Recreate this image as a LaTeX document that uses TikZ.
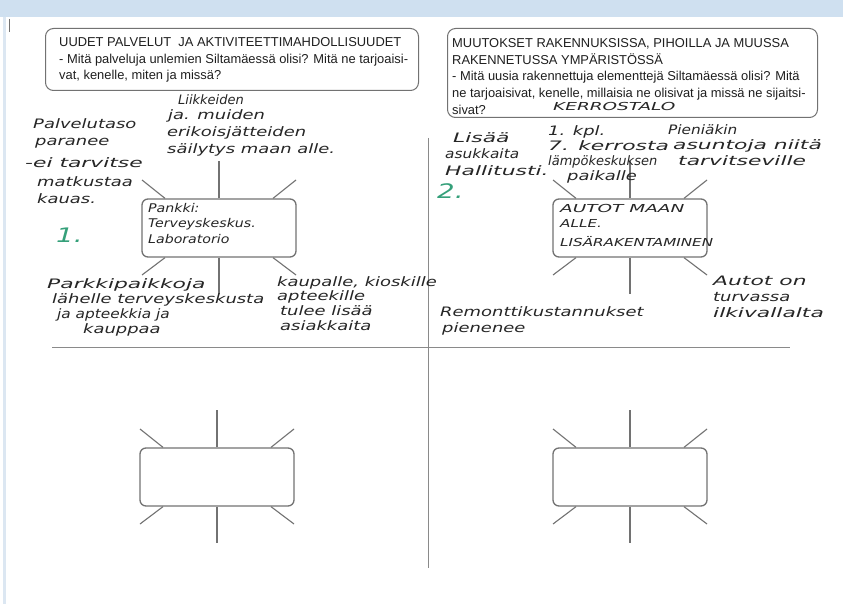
\documentclass[tikz,border=0pt]{standalone}
\usepackage{fontspec}
\setmainfont{Liberation Sans}
\newfontfamily\handfont{DejaVu Sans}[FakeStretch=1.38]
\newfontfamily\handnarrow{DejaVu Sans}[FakeStretch=1.0]
\newfontfamily\handmid{DejaVu Sans}[FakeStretch=1.18]
\newfontfamily\handwide{DejaVu Sans}[FakeStretch=1.68]
\definecolor{bandblue}{HTML}{CFE0F0}
\definecolor{stripblue}{HTML}{DCE7F2}
\definecolor{linegray}{HTML}{727272}
\definecolor{crossgray}{HTML}{8A8A8A}
\definecolor{ink}{HTML}{262626}
\definecolor{greenink}{HTML}{35A07A}
\begin{document}
\begin{tikzpicture}[x=1pt,y=-1pt,
  pbox/.style={draw=linegray, line width=1pt, rounded corners=8pt, inner sep=0pt},
  hbox/.style={draw=linegray, line width=1.3pt, rounded corners=6pt, minimum width=154pt, minimum height=58pt, inner sep=0pt},
  spoke/.style={draw=linegray, line width=1.1pt},
  crossline/.style={draw=crossgray, line width=1pt},
  ptext/.style={font=\fontsize{12.9}{16.8}\selectfont, align=left, inner sep=0pt, text=black!88},
  hw/.style={font=\handfont\itshape\fontsize{13}{15}\selectfont, inner sep=0pt, text=ink, anchor=base west},
  hwn/.style={hw, font=\handnarrow\itshape\fontsize{13}{15}\selectfont},
  hwm/.style={hw, font=\handmid\itshape\fontsize{13}{15}\selectfont},
  hww/.style={hw, font=\handwide\itshape\fontsize{13}{15}\selectfont},
  hwsmall/.style={hw, font=\handmid\itshape\fontsize{12}{14}\selectfont},
  hwcaps/.style={hw, font=\handfont\itshape\fontsize{11}{13}\selectfont},
  hwcapsw/.style={hw, font=\handwide\itshape\fontsize{11}{13}\selectfont},
  greennum/.style={font=\handfont\itshape\fontsize{20}{22}\selectfont, inner sep=0pt, text=greenink, anchor=base west}
]
\useasboundingbox (0,0) rectangle (843,604);
\fill[white] (0,0) rectangle (843,604);
\fill[bandblue] (0,0) rectangle (843,17);
\fill[stripblue] (3,17) rectangle (6,604);
\draw[linegray, line width=1pt] (9,19) -- (9,32);

% cross
\coordinate (hl) at (52,347);
\coordinate (hr) at (790,347);
\coordinate (vt) at (428,138);
\coordinate (vb) at (428,568);
\draw[crossline] (hl) -- (hr);
\draw[crossline] (vt) -- (vb);

% printed question boxes
\node[pbox, minimum width=373pt, minimum height=62pt, anchor=north west] (qA) at (45,28) {};
\node[ptext, anchor=north west] (qAt) at (59,37) {UUDET PALVELUT\ \ JA AKTIVITEETTIMAHDOLLISUUDET\\- Mitä palveluja unlemien Siltamäessä olisi? Mitä ne tarjoaisi-\\vat, kenelle, miten ja missä?};
\node[pbox, minimum width=370pt, minimum height=89pt, anchor=north west] (qB) at (447,28) {};
\node[ptext, anchor=north west] (qBt) at (452,38) {MUUTOKSET RAKENNUKSISSA, PIHOILLA JA MUUSSA\\RAKENNETUSSA YMPÄRISTÖSSÄ\\- Mitä uusia rakennettuja elementtejä Siltamäessä olisi? Mitä\\ne tarjoaisivat, kenelle, millaisia ne olisivat ja missä ne sijaitsi-\\sivat?};

% boxes with spokes
\foreach \n/\cx/\cy in {UL/219/228, UR/630/228, LL/217/477, LR/630/477} {
  \node[hbox] (box\n) at (\cx,\cy) {};
  \coordinate (\n n) at (\cx,\cy-67);
  \coordinate (\n s) at (\cx,\cy+66);
  \coordinate (\n nw) at (\cx-77,\cy-48);
  \coordinate (\n ne) at (\cx+77,\cy-48);
  \coordinate (\n sw) at (\cx-77,\cy+47);
  \coordinate (\n se) at (\cx+77,\cy+47);
  \draw[spoke] (box\n.north) -- (\n n);
  \draw[spoke] (box\n.south) -- (\n s);
  \draw[spoke] ([xshift=-54pt]box\n.north) -- (\n nw);
  \draw[spoke] ([xshift=54pt]box\n.north) -- (\n ne);
  \draw[spoke] ([xshift=-54pt]box\n.south) -- (\n sw);
  \draw[spoke] ([xshift=54pt]box\n.south) -- (\n se);
}

% ---- upper left handwriting
\node[hwn] (a1) at (178,105) {Liikkeiden};
\node[hw] (a2) at (168,120) {ja. muiden};
\node[hw] (a3) at (167,137) {erikoisjätteiden};
\node[hw] (a4) at (167,154) {säilytys maan alle.};
\node[hw] (b1) at (33,129) {Palvelutaso};
\node[hw] (b2) at (35,146) {paranee};
\node[hww] (b3) at (25,168) {-ei tarvitse};
\node[hw] (b4) at (37,187) {matkustaa};
\node[hw] (b5) at (37,204) {kauas.};
\node[greennum] (n1) at (56,242) {1.};
\node[hwsmall] (c1) at (148,212) {Pankki:};
\node[hwsmall] (c2) at (148,228) {Terveyskeskus.};
\node[hwsmall] (c3) at (148,243) {Laboratorio};
\node[hww] (d1) at (47,288) {Parkkipaikkoja};
\node[hw] (d2) at (52,303) {lähelle terveyskeskusta};
\node[hwm] (d3) at (57,318) {ja apteekkia ja};
\node[hw] (d4) at (83,333) {kauppaa};
\node[hw] (e1) at (277,286) {kaupalle, kioskille};
\node[hw] (e2) at (277,300) {apteekille};
\node[hw] (e3) at (280,315) {tulee lisää};
\node[hw] (e4) at (280,330) {asiakkaita};

% ---- upper right handwriting
\node[hwcapsw] (k1) at (553,111) {KERROSTALO};
\node[hww] (f1) at (453,143) {Lisää};
\node[hwm] (f2) at (445,159) {asukkaita};
\node[hww] (f3) at (445,176) {Hallitusti.};
\node[greennum] (n2) at (437,199) {2.};
\node[hw] (g1) at (548,136) {1. kpl.};
\node[hww] (g2) at (548,151) {7. kerrosta};
\node[hwn] (g3) at (548,166) {lämpökeskuksen};
\node[hw] (g4) at (567,181) {paikalle};
\node[hwm] (h1) at (668,135) {Pieniäkin};
\node[hww] (h2) at (673,150) {asuntoja niitä};
\node[hww] (h3) at (678,166) {tarvitseville};
\node[hwcapsw] (i1) at (560,212) {AUTOT MAAN};
\node[hwcaps] (i2) at (560,227) {ALLE.};
\node[hwcaps] (i3) at (560,246) {LISÄRAKENTAMINEN};
\node[hw] (j1) at (440,316) {Remonttikustannukset};
\node[hw] (j2) at (442,332) {pienenee};
\node[hww] (l1) at (713,285) {Autot on};
\node[hw] (l2) at (713,301) {turvassa};
\node[hww] (l3) at (713,317) {ilkivallalta};
\end{tikzpicture}
\end{document}
